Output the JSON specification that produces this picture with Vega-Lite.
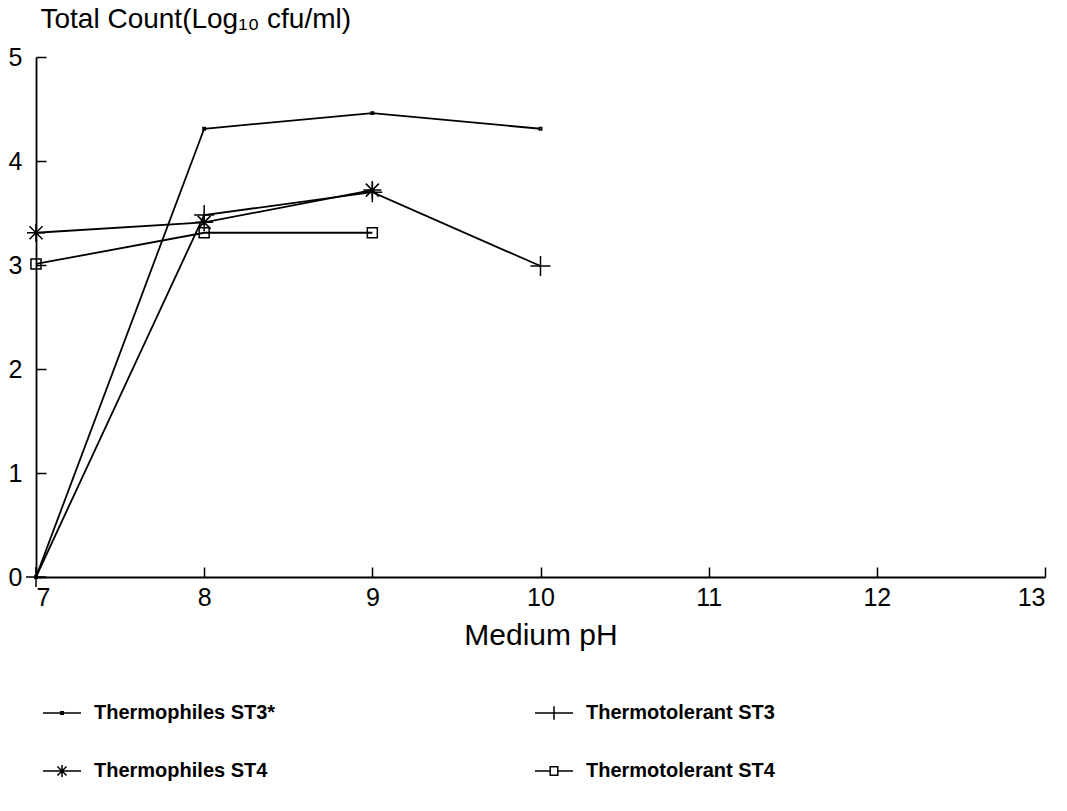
{
  "$schema": "https://vega.github.io/schema/vega-lite/v6.json",
  "autosize": {"type": "none"},
  "padding": {"left": 36, "top": 57, "right": 22, "bottom": 234},
  "width": 1009,
  "height": 520,
  "background": "white",
  "config": {
    "view": {"stroke": null},
    "font": "Liberation Sans",
    "axis": {"grid": false, "domainColor": "black", "domainWidth": 1.8, "tickColor": "black", "tickWidth": 1.5,
      "labelColor": "black", "titleColor": "black", "labelFont": "Liberation Sans", "titleFont": "Liberation Sans",
      "labelFontSize": 25, "titleFontSize": 28, "labelFontWeight": "normal", "titleFontWeight": "normal"}
  },
  "data": {"values": [
    {"ph": 7, "count": 0, "series": "Thermophiles ST3*"},
    {"ph": 8, "count": 4.31, "series": "Thermophiles ST3*"},
    {"ph": 9, "count": 4.46, "series": "Thermophiles ST3*"},
    {"ph": 10, "count": 4.31, "series": "Thermophiles ST3*"},
    {"ph": 7, "count": 0, "series": "Thermotolerant ST3"},
    {"ph": 8, "count": 3.48, "series": "Thermotolerant ST3"},
    {"ph": 9, "count": 3.7, "series": "Thermotolerant ST3"},
    {"ph": 10, "count": 2.99, "series": "Thermotolerant ST3"},
    {"ph": 7, "count": 3.31, "series": "Thermophiles ST4"},
    {"ph": 8, "count": 3.41, "series": "Thermophiles ST4"},
    {"ph": 9, "count": 3.72, "series": "Thermophiles ST4"},
    {"ph": 7, "count": 3.01, "series": "Thermotolerant ST4"},
    {"ph": 8, "count": 3.31, "series": "Thermotolerant ST4"},
    {"ph": 9, "count": 3.31, "series": "Thermotolerant ST4"}
  ]},
  "layer": [
    {"mark": {"type": "line", "color": "black", "strokeWidth": 1.8},
     "encoding": {
       "x": {"field": "ph", "type": "quantitative", "scale": {"domain": [7, 13], "nice": false, "zero": false},
         "axis": {"orient": "bottom", "values": [7, 8, 9, 10, 11, 12, 13], "ticks": false, "labelPadding": 8, "title": "Medium pH", "titleFontSize": 30, "titlePadding": 10}},
       "y": {"field": "count", "type": "quantitative", "scale": {"domain": [0, 5], "nice": false},
         "axis": {"orient": "left", "values": [0, 1, 2, 3, 4, 5], "ticks": false, "labelPadding": 14,
           "title": "Total Count(Log₁₀ cfu/ml)", "titleAngle": 0, "titleAlign": "left", "titleBaseline": "alphabetic", "titleX": 4, "titleY": -30}},
       "detail": {"field": "series", "type": "nominal"}}},
    {"mark": {"type": "point", "filled": false, "color": "black", "strokeWidth": 1.5, "size": 400, "opacity": 1},
     "encoding": {
       "x": {"field": "ph", "type": "quantitative",
         "axis": {"orient": "top", "offset": -520, "values": [7, 8, 9, 10, 11, 12, 13], "labels": false, "domain": false, "tickSize": 10, "title": null}},
       "y": {"field": "count", "type": "quantitative",
         "axis": {"orient": "right", "offset": -1009, "values": [0, 1, 2, 3, 4, 5], "labels": false, "domain": false, "tickSize": 10, "title": null}},
       "shape": {"field": "series", "type": "nominal",
        "scale": {"domain": ["Thermophiles ST3*", "Thermotolerant ST3", "Thermophiles ST4", "Thermotolerant ST4"],
          "range": ["M-0.12,-0.12L0.12,-0.12L0.12,0.12L-0.12,0.12Z", "M-1,0L1,0M0,-1L0,1", "M-0.9,0L0.9,0M0,-0.9L0,0.9M-0.65,-0.65L0.65,0.65M-0.65,0.65L0.65,-0.65", "M-0.5,-0.5L0.5,-0.5L0.5,0.5L-0.5,0.5Z"]},
        "legend": null}}},
    {"mark": {"type": "point", "filled": false, "color": "black", "strokeWidth": 1.5, "size": 1444, "opacity": 0},
     "encoding": {
       "x": {"field": "ph", "type": "quantitative", "axis": null},
       "y": {"field": "count", "type": "quantitative", "axis": null},
       "shape": {"field": "series", "type": "nominal",
        "scale": {"domain": ["Thermophiles ST3*", "Thermotolerant ST3", "Thermophiles ST4", "Thermotolerant ST4"],
          "range": ["M-1,0L1,0M-0.07,-0.07L0.07,-0.07L0.07,0.07L-0.07,0.07Z", "M-1,0L1,0M0,-0.35L0,0.35", "M-1,0L1,0M0,-0.32L0,0.32M-0.24,-0.24L0.24,0.24M-0.24,0.24L0.24,-0.24", "M-1,0L-0.2,0M0.2,0L1,0M-0.2,-0.22L0.2,-0.22L0.2,0.22L-0.2,0.22Z"]},
        "legend": {"title": null, "orient": "none", "legendX": 6, "legendY": 636, "columns": 2, "direction": "horizontal",
          "symbolSize": 1444, "symbolOpacity": 1, "symbolStrokeColor": "black", "symbolStrokeWidth": 1.5, "symbolFillColor": "transparent",
          "labelFont": "Liberation Sans", "labelFontSize": 20, "labelFontWeight": "bold", "labelColor": "black",
          "labelOffset": 12, "columnPadding": 256, "rowPadding": 28, "labelLimit": 400}}}}
  ],
  "resolve": {"scale": {"shape": "independent"}, "legend": {"shape": "independent"}, "axis": {"x": "independent", "y": "independent"}}
}
